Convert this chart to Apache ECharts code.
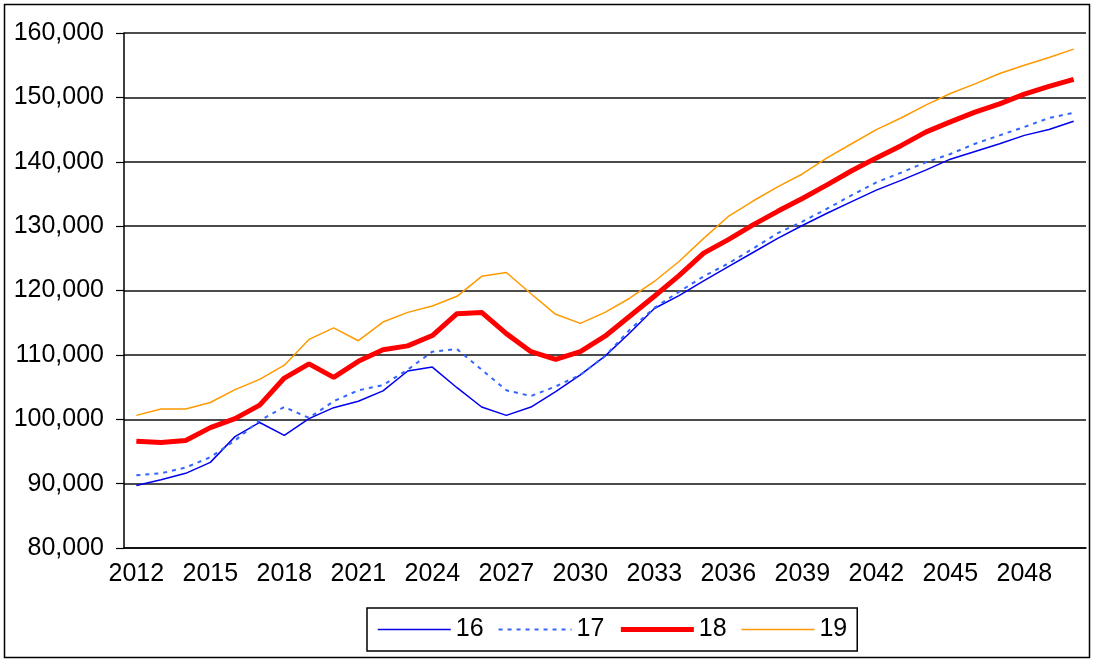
<!DOCTYPE html>
<html>
<head>
<meta charset="utf-8">
<title>Projections 16-19</title>
<script src="https://cdn.jsdelivr.net/npm/echarts@6/dist/echarts.min.js"></script>
<style>
  html, body { margin: 0; padding: 0; background: #fff; }
  #chart { width: 1094px; height: 662px; }
</style>
</head>
<body>
<div id="chart"></div>
<script>
// years 2012 - 2050
const years = [];
for (let y = 2012; y <= 2050; y++) years.push(String(y));

const s16 = [89700, 90600, 91600, 93300, 97300, 99500, 97500, 100100, 101800, 102800,
  104400, 107500, 108100, 104900, 101900, 100600, 101900, 104300, 106900, 109800,
  113400, 117200, 119200, 121500, 123700, 125900, 128100, 130100, 132000, 133800,
  135600, 137100, 138700, 140400, 141600, 142800, 144100, 145000, 146300];

const s17 = [91300, 91600, 92500, 94100, 96700, 99800, 101900, 100200, 102800, 104500,
  105300, 107700, 110500, 110900, 107700, 104500, 103600, 105100, 106900, 109800,
  113900, 117300, 119800, 122200, 124200, 126500, 128900, 130700, 132700, 134800,
  136800, 138300, 139900, 141200, 142800, 144100, 145400, 146800, 147600];

const s18 = [96600, 96400, 96700, 98700, 100100, 102200, 106400, 108600, 106500, 109000,
  110800, 111400, 113000, 116400, 116600, 113300, 110500, 109300, 110500, 112900,
  116000, 119100, 122300, 125800, 127900, 130200, 132300, 134300, 136400, 138600,
  140600, 142500, 144600, 146200, 147700, 149000, 150500, 151700, 152800];

const s19 = [100600, 101600, 101600, 102600, 104600, 106200, 108400, 112400, 114200, 112200,
  115100, 116600, 117600, 119100, 122200, 122800, 119500, 116300, 114900, 116600,
  118800, 121400, 124500, 128100, 131500, 133900, 136100, 138100, 140600, 142800,
  145000, 146800, 148800, 150600, 152100, 153700, 155000, 156200, 157500];

const chart = echarts.init(document.getElementById('chart'));

const font = 'Liberation Sans, Arial, sans-serif';

const option = {
  animation: false,
  backgroundColor: '#fff',
  textStyle: { fontFamily: font },
  graphic: [{
    type: 'rect',
    shape: { x: 4.5, y: 4.5, width: 1085, height: 653 },
    style: { fill: 'none', stroke: '#000', lineWidth: 1.5 },
    silent: true
  }],
  grid: {
    left: 124,
    right: 8,
    top: 33,
    bottom: 114
  },
  legend: {
    left: 367,
    top: 608,
    padding: [9, 10, 9, 10],
    borderColor: '#000',
    borderWidth: 1.5,
    itemWidth: 73,
    itemHeight: 14,
    itemGap: 14,
    itemStyle: { opacity: 0 },
    textStyle: { fontSize: 25, color: '#000', fontFamily: font },
    data: [
      { name: '16', lineStyle: { width: 1.5 } },
      { name: '17', lineStyle: { width: 2, type: [4, 5] } },
      { name: '18', lineStyle: { width: 5 } },
      { name: '19', lineStyle: { width: 1.5 } }
    ]
  },
  xAxis: {
    type: 'category',
    data: years,
    boundaryGap: true,
    axisLine: { lineStyle: { color: '#000', width: 1.5 } },
    axisTick: { interval: 0, length: 7, lineStyle: { color: '#000', width: 1.2 } },
    axisLabel: { interval: 2, margin: 14, fontSize: 25, color: '#000', fontFamily: font },
    splitLine: { show: false }
  },
  yAxis: {
    type: 'value',
    min: 80000,
    max: 160000,
    interval: 10000,
    axisLine: { show: true, lineStyle: { color: '#000', width: 1.5 } },
    axisTick: { show: true, length: 8, lineStyle: { color: '#000', width: 1.2 } },
    axisLabel: {
      margin: 20,
      fontSize: 25,
      color: '#000',
      fontFamily: font,
      formatter: v => v.toLocaleString('en-US')
    },
    splitLine: { lineStyle: { color: '#111', width: 1.5 } }
  },
  series: [
    {
      name: '16',
      type: 'line',
      data: s16,
      symbol: 'none',
      color: '#0000EE',
      lineStyle: { color: '#0000EE', width: 1.5 }
    },
    {
      name: '17',
      type: 'line',
      data: s17,
      symbol: 'none',
      color: '#3366FF',
      lineStyle: { color: '#3366FF', width: 2, type: [4, 5] }
    },
    {
      name: '18',
      type: 'line',
      data: s18,
      symbol: 'none',
      color: '#FF0000',
      lineStyle: { color: '#FF0000', width: 5 }
    },
    {
      name: '19',
      type: 'line',
      data: s19,
      symbol: 'none',
      color: '#FF9900',
      lineStyle: { color: '#FF9900', width: 1.5 }
    }
  ]
};

chart.setOption(option);
</script>
</body>
</html>
